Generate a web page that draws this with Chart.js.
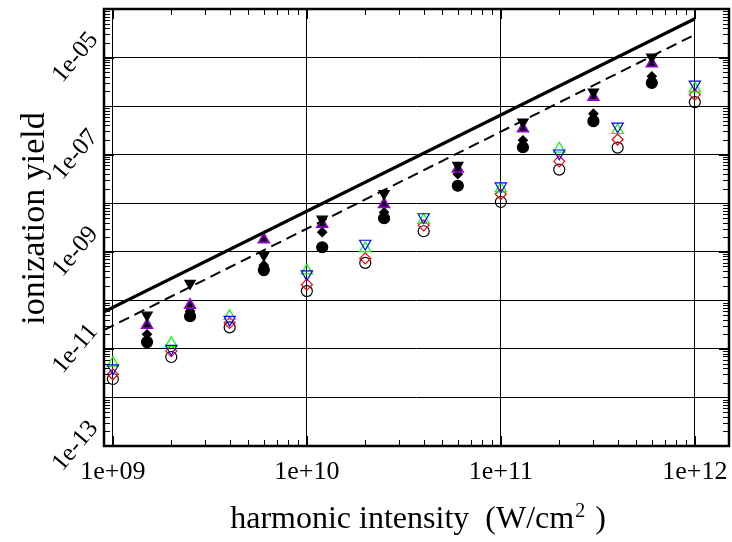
<!DOCTYPE html>
<html>
<head>
<meta charset="utf-8">
<script src="https://cdn.jsdelivr.net/npm/chart.js@4.4.0/dist/chart.umd.min.js"></script>
<style>
  html, body { margin: 0; padding: 0; background: #fff; }
  #wrap { width: 732px; height: 542px; }
</style>
</head>
<body>
<div id="wrap"><canvas id="chart" width="732" height="542"></canvas></div>
<script>
const canvas = document.getElementById("chart");

// harmonic intensities (W/cm^2) of the two groups of points
const xOpen = [1e9, 2e9, 4e9, 1e10, 2e10, 4e10, 1e11, 2e11, 4e11, 1e12];
const xFilled = [1.5e9, 2.5e9, 6e9, 1.2e10, 2.5e10, 6e10, 1.3e11, 3e11, 6e11];

// open symbols
const openCircle  = [2.4e-12, 6.8e-12, 2.77e-11, 1.55e-10, 5.9e-10, 2.65e-9, 1.06e-8, 4.93e-8, 1.4e-7, 1.21e-6];
const openDiamond = [3.0e-12, 9.0e-12, 3.44e-11, 2.1e-10, 7.3e-10, 3.5e-9, 1.53e-8, 7.3e-8, 2.05e-7, 1.73e-6];
const openUp      = [5.1e-12, 1.31e-11, 4.7e-11, 4.08e-10, 1.17e-9, 4.5e-9, 1.99e-8, 1.32e-7, 3.18e-7, 2.29e-6];
const openDown    = [4.0e-12, 1.01e-11, 4.0e-11, 3.46e-10, 1.48e-9, 5.2e-9, 2.24e-8, 1.07e-7, 3.84e-7, 2.81e-6];

// filled symbols
const fillCircle  = [1.38e-11, 4.7e-11, 4.2e-10, 1.24e-9, 4.9e-9, 2.29e-8, 1.42e-7, 4.9e-7, 3.0e-6];
const fillDiamond = [2.0e-11, 6.0e-11, 5.3e-10, 2.53e-9, 6.5e-9, 3.95e-8, 1.98e-7, 7.0e-7, 4.1e-6];
const fillUp      = [3.1e-11, 7.96e-11, 1.79e-9, 3.7e-9, 9.5e-9, 5.1e-8, 3.44e-7, 1.54e-6, 7.5e-6];
const fillDown    = [4.95e-11, 2.23e-10, 8.5e-10, 4.7e-9, 1.58e-8, 6.05e-8, 4.7e-7, 1.95e-6, 1.02e-5];

// the two straight lines (slope 2 on log-log)
const solidX = [9e8, 1e12];
const solidY = [5.8e-11, 6.3e-5];
const dashX = [9e8, 1e12];
const dashY = [2.44e-11, 2.96e-5];

const xTickValues = [1e9, 1e10, 1e11, 1e12];
const xTickLabels = ["1e+09", "1e+10", "1e+11", "1e+12"];
const yGridValues = [1e-13, 1e-12, 1e-11, 1e-10, 1e-9, 1e-8, 1e-7, 1e-6, 1e-5, 1e-4];
const yTickValues = [1e-13, 1e-11, 1e-9, 1e-7, 1e-5];
const yTickLabels = ["1e-13", "1e-11", "1e-09", "1e-07", "1e-05"];

const xTitle = "harmonic intensity  (W/cm";
const xTitleSup = "2";
const xTitleEnd = " )";
const yTitle = "ionization yield";

const FONT = "'Liberation Serif', 'Times New Roman', serif";
Chart.defaults.font.family = FONT;

const toPoints = (xs, ys) => xs.map((x, i) => ({ x: x, y: ys[i] }));

function markers(xs, ys, style, fill, edge, r, rot, bw) {
    return {
        data: toPoints(xs, ys),
        showLine: false,
        pointStyle: style,
        rotation: rot || 0,
        pointRadius: r,
        pointHoverRadius: r,
        pointBackgroundColor: fill,
        pointBorderColor: edge,
        pointBorderWidth: bw || 1.2,
    };
}

function line(xs, ys, width, dash) {
    return {
        data: toPoints(xs, ys),
        showLine: true,
        borderColor: "#000",
        borderWidth: width,
        borderDash: dash,
        pointRadius: 0,
        pointHoverRadius: 0,
        fill: false,
    };
}

const none = "rgba(0,0,0,0)";

//frame, inward ticks and axis titles
const framePlugin = {
    id: "frame",
    afterDraw(chart) {
        const c = chart.ctx;
        const a = chart.chartArea;
        const xs = chart.scales.x;
        const ys = chart.scales.y;
        c.save();
        c.strokeStyle = "#000";
        c.lineWidth = 1;
        c.beginPath();
        for (let d = 8; d <= 12; d++) {
            for (let m = 1; m <= 9; m++) {
                const v = m * Math.pow(10, d);
                if (v < xs.min || v > xs.max) continue;
                const px = Math.round(xs.getPixelForValue(v)) + 0.5;
                const len = m === 1 ? 10 : 6;
                c.moveTo(px, a.bottom); c.lineTo(px, a.bottom - len);
                c.moveTo(px, a.top); c.lineTo(px, a.top + len);
            }
        }
        for (let d = -13; d <= -5; d++) {
            for (let m = 1; m <= 9; m++) {
                const v = m * Math.pow(10, d);
                if (v < ys.min || v > ys.max) continue;
                const py = Math.round(ys.getPixelForValue(v)) + 0.5;
                const len = m === 1 ? 10 : 6;
                c.moveTo(a.left, py); c.lineTo(a.left + len, py);
                c.moveTo(a.right, py); c.lineTo(a.right - len, py);
            }
        }
        c.stroke();
        c.lineWidth = 2.5;
        c.strokeRect(a.left, a.top, a.right - a.left, a.bottom - a.top);

        c.fillStyle = "#000";
        c.textBaseline = "alphabetic";
        // x title with superscript
        c.font = "32px " + FONT;
        const w1 = c.measureText(xTitle).width;
        const w3 = c.measureText(xTitleEnd).width;
        c.font = "20px " + FONT;
        const w2 = c.measureText(xTitleSup).width;
        let tx = (a.left + a.right) / 2 - (w1 + w2 + w3) / 2;
        const ty = a.bottom + 82;
        c.textAlign = "left";
        c.font = "32px " + FONT;
        c.fillText(xTitle, tx, ty);
        tx += w1 + 1;
        c.font = "20px " + FONT;
        c.fillText(xTitleSup, tx, ty - 11);
        tx += w2 + 2;
        c.font = "32px " + FONT;
        c.fillText(xTitleEnd, tx, ty);

        // y title
        c.translate(44, (a.top + a.bottom) / 2 - 9);
        c.rotate(-Math.PI / 2);
        c.textAlign = "center";
        c.font = "34px " + FONT;
        c.fillText(yTitle, 0, 0);
        c.restore();
    }
};

let myChart = new Chart(canvas, {
    type: "scatter",
    plugins: [framePlugin],
    data: {
        datasets: [
            line(solidX, solidY, 3.2, []),
            line(dashX, dashY, 2, [11, 6]),
            markers(xOpen, openDown, "triangle", none, "#0000ff", 6.5, 180),
            markers(xOpen, openUp, "triangle", none, "#00ff00", 6.5, 0),
            markers(xOpen, openDiamond, "rectRot", none, "#ff0000", 5.5, 0),
            markers(xOpen, openCircle, "circle", none, "#000", 5.5, 0),
            markers(xFilled, fillDown, "triangle", "#000", "#000", 6, 180),
            markers(xFilled, fillUp, "triangle", "#000", "#9400d3", 6, 0, 1.8),
            markers(xFilled, fillDiamond, "rectRot", "#000", "#000", 4.5, 0),
            markers(xFilled, fillCircle, "circle", "#000", "#000", 5.5, 0),
        ],
    },
    options: {
        responsive: false,
        animation: false,
        devicePixelRatio: 1,
        layout: { autoPadding: false, padding: { top: 9, right: 3, left: 0, bottom: 0 } },
        plugins: {
            legend: { display: false },
            tooltip: { enabled: false },
        },
        scales: {
            x: {
                type: "logarithmic",
                min: 9e8,
                max: 1.5e12,
                afterBuildTicks: (s) => { s.ticks = xTickValues.map(v => ({ value: v })); },
                afterFit: (s) => {
                    s.height = 96;
                    s.paddingLeft = 0;
                    s.paddingRight = 0;
                },
                grid: { color: "#000", lineWidth: 1, drawTicks: false },
                border: { display: false },
                ticks: {
                    color: "#000",
                    font: { size: 26 },
                    padding: 11,
                    autoSkip: false,
                    minRotation: 0,
                    maxRotation: 0,
                    callback: (v, i) => xTickLabels[i],
                },
            },
            y: {
                type: "logarithmic",
                min: 1e-13,
                max: 1e-4,
                afterBuildTicks: (s) => { s.ticks = yGridValues.map(v => ({ value: v })); },
                afterFit: (s) => {
                    s.width = 104;
                    s.paddingTop = 0;
                    s.paddingBottom = 0;
                },
                grid: { color: "#000", lineWidth: 1, drawTicks: false },
                border: { display: false },
                ticks: {
                    color: "#000",
                    font: { size: 25 },
                    padding: 0,
                    crossAlign: "center",
                    autoSkip: false,
                    minRotation: 50,
                    maxRotation: 50,
                    callback: (v) => {
                        const i = yTickValues.findIndex(t => Math.abs(Math.log10(t) - Math.log10(v)) < 1e-6);
                        return i < 0 ? "" : yTickLabels[i];
                    },
                },
            },
        },
    },
});
</script>
</body>
</html>
